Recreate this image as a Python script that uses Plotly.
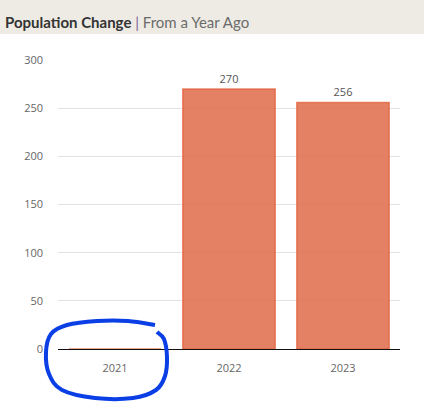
import plotly.graph_objects as go

# Datos
anios = ["2021", "2022", "2023"]
cambio_poblacion = [0, 270, 256]
ticks_y = [0, 50, 100, 150, 200, 250, 300]

W, H = 424, 404
ML, MR, MT, MB = 58, 24, 60, 55


def px_a_paper(x, y):
    # convertir pixeles de la ventana a coordenadas "paper"
    return (x - ML) / (W - ML - MR), (H - MB - y) / (H - MT - MB)


def trazo_suave(puntos):
    # Catmull-Rom -> Bezier para el circulo a mano
    pts = [px_a_paper(x, y) for x, y in puntos]
    d = "M %.4f,%.4f" % pts[0]
    for i in range(len(pts) - 1):
        p0 = pts[i - 1] if i > 0 else pts[i]
        p1, p2 = pts[i], pts[i + 1]
        p3 = pts[i + 2] if i + 2 < len(pts) else p2
        c1 = (p1[0] + (p2[0] - p0[0]) / 6, p1[1] + (p2[1] - p0[1]) / 6)
        c2 = (p2[0] - (p3[0] - p1[0]) / 6, p2[1] - (p3[1] - p1[1]) / 6)
        d += " C %.4f,%.4f %.4f,%.4f %.4f,%.4f" % (c1 + c2 + p2)
    return d


circulo = [(155, 325), (128, 321), (97, 321), (67, 325), (51, 334), (46, 352),
           (49, 374), (62, 390), (95, 398), (133, 398), (156, 390), (165, 376),
           (167, 357), (164, 339), (157, 332)]

fig = go.Figure(go.Bar(
    x=anios,
    y=cambio_poblacion,
    text=[str(v) if v else "" for v in cambio_poblacion],
    textposition="outside",
    textfont=dict(size=11, color="#555555"),
    cliponaxis=False,
    marker=dict(color="rgba(224,112,78,0.88)",
                line=dict(color="rgba(226,96,58,0.75)", width=1.5)),
    hoverinfo="skip",
))

fig.update_layout(
    width=W, height=H,
    margin=dict(l=ML, r=MR, t=MT, b=MB),
    paper_bgcolor="white", plot_bgcolor="white",
    font=dict(family="Open Sans, sans-serif"),
    bargap=0.19,
    showlegend=False,
    xaxis=dict(
        showgrid=False, ticks="", showline=False,
        tickfont=dict(size=11, color="#666666"),
        ticklabelstandoff=11,
    ),
    yaxis=dict(
        range=[0, 300], tickvals=ticks_y,
        showgrid=True, gridcolor="#e3e3e3", gridwidth=1,
        zeroline=True, zerolinecolor="#111111", zerolinewidth=1,
        tickfont=dict(size=11, color="#666666"),
        ticklabelstandoff=14,
    ),
    shapes=[
        dict(type="rect", xref="paper", yref="paper",
             x0=-ML / (W - ML - MR), x1=1 + MR / (W - ML - MR),
             y0=px_a_paper(0, 34)[1], y1=px_a_paper(0, 0)[1],
             fillcolor="#eeebe4", line=dict(width=0), layer="below"),
        dict(type="path", xref="paper", yref="paper",
             path=trazo_suave(circulo),
             line=dict(color="#0a3fe6", width=4)),
    ],
    annotations=[dict(
        xref="paper", yref="paper",
        x=px_a_paper(3, 0)[0], y=px_a_paper(0, 22)[1],
        xanchor="left", yanchor="middle", showarrow=False,
        text="<b>Population Change</b> <span style='color:#7b5d97'>|</span> "
             "<span style='color:#6b6b6b'>From a Year Ago</span>",
        font=dict(family="Lato, sans-serif", size=15, color="#333333"),
    )],
)

# quitar el margen del body para que la figura llene la ventana
fig.write_html("out.html", config={"displayModeBar": False},
               post_script="document.body.style.margin='0';")
